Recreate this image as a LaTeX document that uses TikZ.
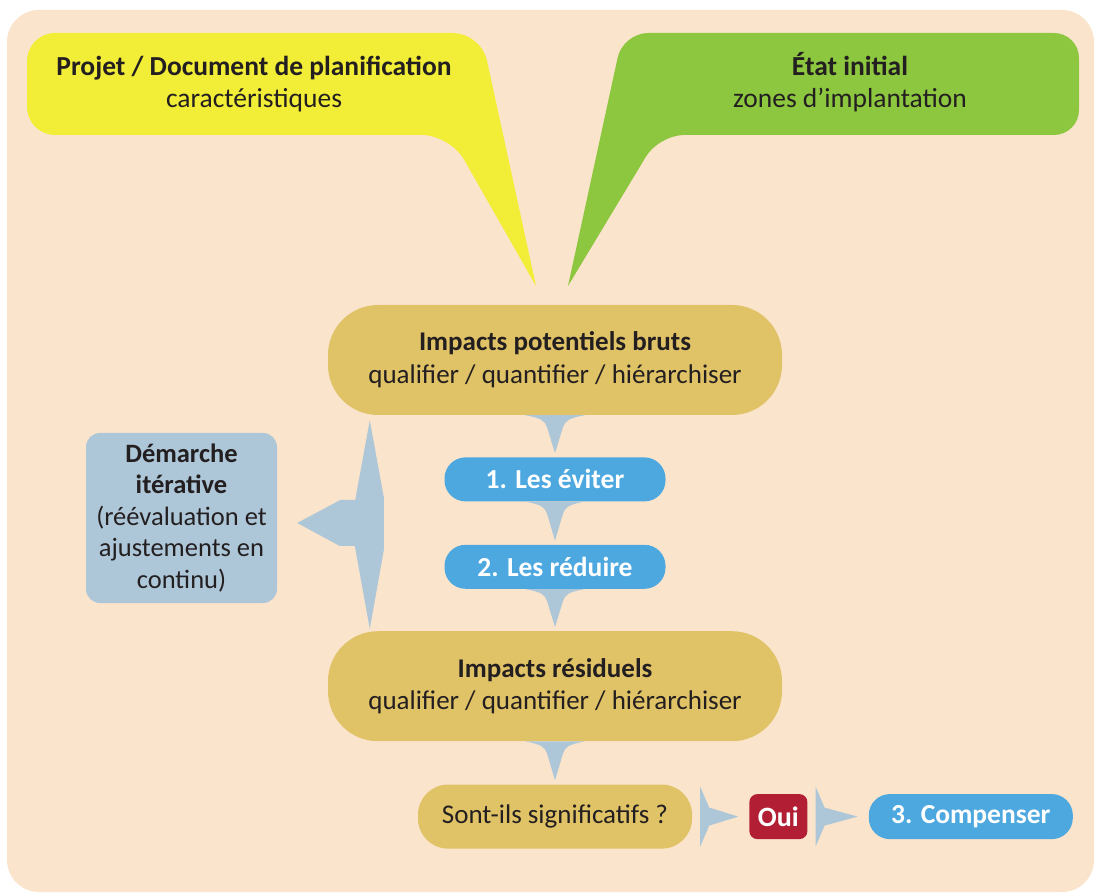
\documentclass[tikz,border=0pt]{standalone}
\usepackage{fontspec}
\setmainfont{Carlito}
\usetikzlibrary{positioning}
\usetikzlibrary{calc}

\definecolor{peach}{HTML}{FBE4CC}
\definecolor{lemon}{HTML}{F2ED37}
\definecolor{leaf}{HTML}{8DC63F}
\definecolor{ochre}{HTML}{E0C267}
\definecolor{sky}{HTML}{4DA8E0}
\definecolor{mist}{HTML}{AEC7D8}
\definecolor{wine}{HTML}{B21E34}
\definecolor{ink}{HTML}{231F20}

\tikzset{
  impact/.style={fill=ochre, text=ink, align=center, inner sep=0pt,
    minimum width=454pt, minimum height=110pt, rounded corners=50pt,
    font=\fontsize{27}{33}\selectfont},
  mesure/.style={fill=sky, text=white, inner sep=0pt,
    minimum width=221pt, minimum height=44pt, rounded corners=21pt,
    font=\fontsize{27.5}{30}\selectfont\bfseries},
  bulle/.style={text=ink, align=center, inner sep=0pt,
    font=\fontsize{27.5}{32}\selectfont},
  wedge/.style={fill=mist}
}

% fleche vers le bas entre deux boites
\newcommand{\downwedge}[2]{
  \fill[wedge] ($(#1.south)+(-30pt,0)$)
    .. controls ($(#1.south)+(-13pt,-3pt)$) and ($(#1.south)+(-10pt,-6pt)$) .. ($(#1.south)+(-8pt,-12pt)$)
    -- ($(#2.north)+(0,4pt)$)
    -- ($(#1.south)+(8pt,-12pt)$)
    .. controls ($(#1.south)+(10pt,-6pt)$) and ($(#1.south)+(13pt,-3pt)$) .. ($(#1.south)+(30pt,0)$)
    -- cycle;
}
% fleche vers la droite
\newcommand{\rightwedge}[2]{
  \fill[wedge] ($(#1.east)+(8pt,30pt)$)
    -- ($(#1.east)+(17pt,9pt)$)
    -- ($(#2.west)+(-11pt,0)$)
    -- ($(#1.east)+(17pt,-9pt)$)
    -- ($(#1.east)+(8pt,-30pt)$)
    -- cycle;
}

\begin{document}
\begin{tikzpicture}[x=1pt,y=1pt]
\useasboundingbox (0,0) rectangle (1094,892);
\fill[peach, rounded corners=32pt] (7,0) rectangle (1094,882);

% bulles du haut
\fill[lemon, rounded corners=28pt] (536,606) -- (481,859) -- (27,859) -- (27,757) -- (450,757) -- (536,606);
\fill[leaf, rounded corners=25pt] (568,606) -- (623,859) -- (1079,859) -- (1079,757) -- (659,757) -- (568,606);

\node (projet) at (254,808) [bulle] {\textbf{Projet / Document de planification}\\caractéristiques};
\node (etat) at (850,810) [bulle] {\textbf{État initial}\\zones d’implantation};

% chaine centrale
\node (bruts) at (555,532) [impact] {\textbf{Impacts potentiels bruts}\\qualifier / quantifier / hiérarchiser};
\node (eviter) [below=42pt of bruts, mesure] {1. Les éviter};
\node (reduire) [below=43pt of eviter, mesure] {2. Les réduire};
\node (residuels) [below=42pt of reduire, impact] {\textbf{Impacts résiduels}\\qualifier / quantifier / hiérarchiser};
\node (signif) [below=43pt of residuels, impact, minimum width=274pt, minimum height=64pt, rounded corners=30pt] {Sont-ils significatifs ?};
\node (oui) [right=57pt of signif, fill=wine, text=white, inner sep=0pt, minimum width=58pt, minimum height=45pt, rounded corners=8pt, font=\fontsize{28}{30}\selectfont\bfseries] {Oui};
\node (compenser) [right=61pt of oui, mesure, minimum width=204pt, minimum height=45pt] {3. Compenser};

\node (demarche) at (181.5,374) [fill=mist, text=ink, align=center, inner sep=0pt, minimum width=191pt, minimum height=170pt, rounded corners=14pt, font=\fontsize{26.5}{31.5}\selectfont] {\textbf{Démarche}\\\textbf{itérative}\\(réévaluation et\\ajustements en\\continu)};

\downwedge{bruts}{eviter}
\downwedge{eviter}{reduire}
\downwedge{reduire}{residuels}
\downwedge{residuels}{signif}
\rightwedge{signif}{oui}
\rightwedge{oui}{compenser}

% aller-retour iteratif
\coordinate (itop) at ($(bruts.south west)+(42pt,-5pt)$);
\coordinate (ibot) at ($(residuels.north west)+(42pt,2pt)$);
\coordinate (ileft) at ($(demarche.east)+(20pt,-5pt)$);
\fill[wedge] (itop) -- ++(14pt,-77pt) -- ++(0,-53pt) -- (ibot) -- ++(-15pt,83pt) -- ++(-15pt,0)
  -- (ileft) -- ++(43pt,23pt) -- ++(15pt,0) -- cycle;
\end{tikzpicture}
\end{document}
